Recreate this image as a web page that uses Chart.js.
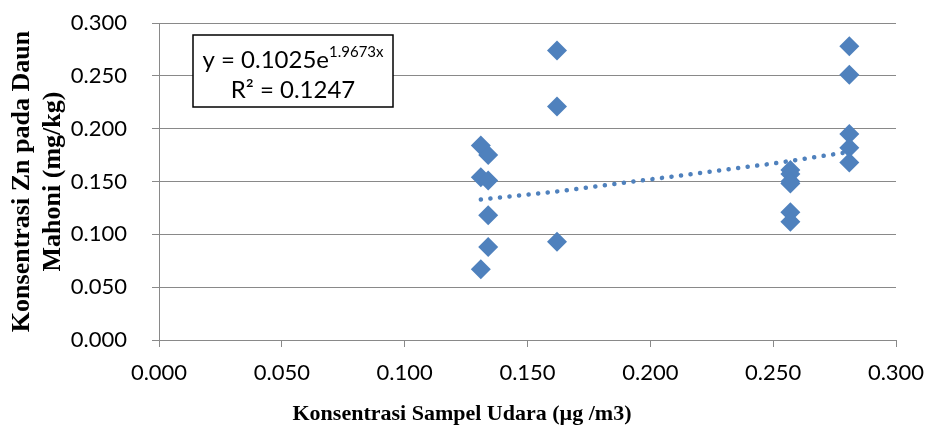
<!DOCTYPE html>
<html>
<head>
<meta charset="utf-8">
<script src="https://cdn.jsdelivr.net/npm/chart.js@4/dist/chart.umd.min.js"></script>
<style>
  html, body { margin: 0; padding: 0; background: #fff; }
  #wrap { width: 928px; height: 429px; position: relative; }
</style>
</head>
<body>
<div id="wrap"><canvas id="scatterChart"></canvas></div>
<script>
// ---- Data ----
const udaraX = [
  0.131, 0.134, 0.131, 0.134, 0.134, 0.134, 0.131,
  0.162, 0.162, 0.162,
  0.257, 0.257, 0.257, 0.257, 0.257, 0.257,
  0.281, 0.281, 0.281, 0.281, 0.281
];
const daunZnY = [
  0.184, 0.175, 0.154, 0.151, 0.118, 0.088, 0.067,
  0.274, 0.221, 0.093,
  0.161, 0.157, 0.150, 0.148, 0.121, 0.112,
  0.278, 0.251, 0.195, 0.182, 0.168
];

// exponential trendline as drawn (dotted)
const trendX = [0.131, 0.160, 0.190, 0.220, 0.250, 0.281];
const trendY = [0.133, 0.140, 0.149, 0.158, 0.167, 0.178];

const axisTicks = [0, 0.05, 0.1, 0.15, 0.2, 0.25, 0.3];
const eqMain = "y = 0.1025e";
const eqExp = "1.9673x";
const eqR2 = "R² = 0.1247";
const xTitle = "Konsentrasi Sampel Udara (µg /m3)";
const yTitle = ["Konsentrasi Zn pada Daun", "Mahoni (mg/kg)"];

const blue = "#4F81BD";
const grey = "#898989";
const sans = "Lato, 'Open Sans', sans-serif";
const serif = "'Liberation Serif', 'Times New Roman', serif";
const tickFont = { family: sans, size: 22 };

const points = udaraX.map((x, i) => ({ x, y: daunZnY[i] }));
const trend = trendX.map((x, i) => ({ x, y: trendY[i] }));

// equation box + x axis title
const extras = {
  id: "extras",
  afterDraw(chart) {
    const ctx = chart.ctx;
    ctx.save();
    ctx.fillStyle = "#fff";
    ctx.fillRect(193, 35, 200, 72);
    ctx.strokeStyle = "#000";
    ctx.lineWidth = 1.5;
    ctx.strokeRect(193, 35, 200, 72);

    ctx.fillStyle = "#000";
    ctx.textBaseline = "alphabetic";
    ctx.font = "24px " + sans;
    const w1 = ctx.measureText(eqMain).width;
    ctx.font = "15px " + sans;
    const w2 = ctx.measureText(eqExp).width;
    const sx = 293 - (w1 + w2) / 2;
    ctx.textAlign = "left";
    ctx.font = "24px " + sans;
    ctx.fillText(eqMain, sx, 68);
    ctx.font = "15px " + sans;
    ctx.fillText(eqExp, sx + w1, 57);
    ctx.font = "24px " + sans;
    ctx.textAlign = "center";
    ctx.fillText(eqR2, 293, 98);

    // x axis title, centred on the whole picture
    ctx.font = "bold 22px " + serif;
    ctx.textBaseline = "middle";
    ctx.fillText(xTitle, 462, 414);
    ctx.restore();
  }
};

new Chart(document.getElementById("scatterChart"), {
  type: "scatter",
  data: {
    datasets: [
      {
        label: "Zn",
        data: points,
        pointStyle: "rectRot",
        pointRadius: 10,
        pointHoverRadius: 10,
        backgroundColor: blue,
        borderColor: blue,
        borderWidth: 0,
        order: 1
      },
      {
        label: "Expon.",
        data: trend,
        showLine: true,
        pointRadius: 0,
        borderColor: blue,
        borderWidth: 4.5,
        borderDash: [0.1, 9.5],
        borderCapStyle: "round",
        fill: false,
        order: 0
      }
    ]
  },
  options: {
    responsive: true,
    maintainAspectRatio: false,
    animation: false,
    layout: { autoPadding: false, padding: { top: 23, right: 32, left: 0, bottom: 0 } },
    plugins: {
      legend: { display: false },
      tooltip: { enabled: false }
    },
    scales: {
      x: {
        type: "linear",
        min: 0,
        max: 0.3,
        afterBuildTicks: (s) => { s.ticks = axisTicks.map(v => ({ value: v })); },
        afterFit: (s) => { s.height = 89; s.paddingLeft = 0; s.paddingRight = 0; },
        ticks: {
          color: "#000",
          font: tickFont,
          padding: 13,
          maxRotation: 0,
          callback: (v) => Number(v).toFixed(3)
        },
        grid: { drawOnChartArea: false, drawTicks: true, tickLength: 7, color: grey },
        border: { display: true, color: grey, width: 1 }
      },
      y: {
        type: "linear",
        min: 0,
        max: 0.3,
        afterBuildTicks: (s) => { s.ticks = axisTicks.map(v => ({ value: v })); },
        afterFit: (s) => { s.width = 159; s.paddingTop = 0; s.paddingBottom = 0; },
        ticks: {
          color: "#000",
          font: tickFont,
          padding: 25,
          callback: (v) => Number(v).toFixed(3)
        },
        grid: { color: grey, lineWidth: 1, tickLength: 7 },
        border: { display: true, color: grey, width: 1 },
        title: {
          display: true,
          text: yTitle,
          color: "#000",
          font: { family: serif, size: 26, weight: "bold", lineHeight: 1.18 },
          padding: { top: 7, bottom: 0 }
        }
      }
    }
  },
  plugins: [extras]
});
</script>
</body>
</html>
